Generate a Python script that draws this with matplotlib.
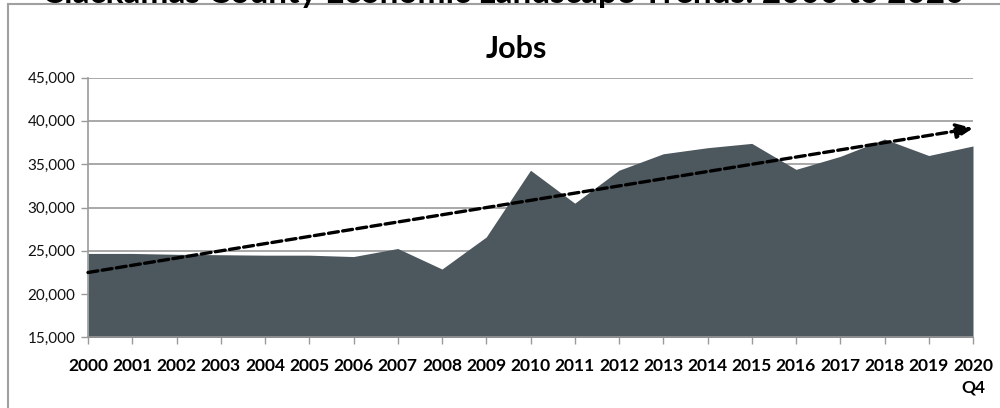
import numpy as np
import matplotlib
matplotlib.use("Agg")
import matplotlib.pyplot as plt
from matplotlib.patches import Rectangle

plt.rcParams['font.family'] = ['Lato', 'DejaVu Sans']

# Clackamas County jobs, annual 2000-2020 (2020 = Q4)
years = list(range(2000, 2021))
year_labels = [str(y) for y in years[:-1]] + ["2020\nQ4"]
jobs = [24700, 24700, 24600, 24550, 24500, 24500, 24340, 25270, 22900, 26600,
        34300, 30500, 34300, 36200, 36900, 37400, 34400, 35900, 37900, 36000, 37100]
trend_years = [2000, 2020]
trend_jobs = [22500, 39150]

fig = plt.figure(figsize=(10, 4.08), dpi=100)
ax = fig.add_axes([0.088, 0.1728, 0.885, 0.6372])

ax.fill_between(years, jobs, 15000, color='#4d575e', linewidth=0, zorder=2)

# dashed linear trend with arrow head
ax.annotate('', xy=(trend_years[1], trend_jobs[1]), xytext=(trend_years[0], trend_jobs[0]),
            arrowprops=dict(arrowstyle='-|>,head_length=1.0,head_width=0.45', color='black',
                            lw=2.4, linestyle=(0, (3, 1.3)), shrinkA=0, shrinkB=0),
            zorder=4)

ax.set_xlim(2000, 2020)
ax.set_ylim(15000, 45000)
ax.set_yticks(range(15000, 45001, 5000))
ax.set_yticklabels([f"{v:,}" for v in range(15000, 45001, 5000)], fontsize=11, color='#111111')
ax.set_xticks(years)
ax.set_xticklabels(year_labels, fontsize=12.5, fontweight='bold', linespacing=1.4, va='top')
ax.yaxis.grid(True, color='#9a9a9a', linewidth=1.2, zorder=1)
ax.set_axisbelow(True)
for s in ['top', 'right']:
    ax.spines[s].set_visible(False)
for s in ['left', 'bottom']:
    ax.spines[s].set_color('#9a9a9a')
    ax.spines[s].set_linewidth(1.2)
ax.tick_params(axis='both', color='#9a9a9a', width=1, length=5)
ax.tick_params(axis='x', pad=10)
ax.tick_params(axis='y', pad=4)

fig.text(0.516, 1 - 58 / 408, "Jobs", ha='center', va='baseline',
         fontsize=22, fontweight='bold')

# chart border and cut-off heading above it
fig.add_artist(Rectangle((0.008, -0.1), 1.1, 1.0914, transform=fig.transFigure,
                         fill=False, edgecolor='#a0a0a0', linewidth=1.5))
fig.text(0.503, 1 - 3 / 408, "Clackamas County Economic Landscape Trends: 2000 to 2020",
         ha='center', va='baseline', fontsize=24, fontweight='bold')

fig.savefig("out.png", dpi=100)
